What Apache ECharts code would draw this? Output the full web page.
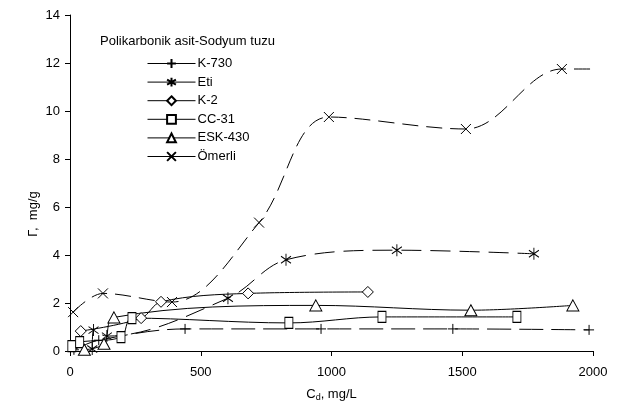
<!DOCTYPE html>
<html>
<head>
<meta charset="utf-8">
<script src="https://cdn.jsdelivr.net/npm/echarts@6/dist/echarts.min.js"></script>
<style>
  html, body { margin: 0; padding: 0; background: #fff; }
  #chart { width: 621px; height: 416px; }
</style>
</head>
<body>
<div id="chart"></div>
<script>
// Adsorption of polycarboxylic acid sodium salt on six materials
const legendTitle = 'Polikarbonik asit-Sodyum tuzu';
const yTitle = 'Γ,  mg/g';
const xTicks = [0, 500, 1000, 1500, 2000];
const yTicks = [0, 2, 4, 6, 8, 10, 12, 14];

// [Cd mg/L, Γ mg/g]
const k730   = [[15, 0.05], [110, 0.45], [440, 0.92], [960, 0.92], [1464, 0.92], [1985, 0.88]];
const eti    = [[85, 0.08], [90, 0.87], [141, 0.62], [604, 2.2], [826, 3.8], [1250, 4.2], [1774, 4.05]];
const k2     = [[41, 0.83], [272, 1.37], [348, 2.05], [681, 2.4], [1139, 2.46]];
const cc31   = [[7, 0.2], [37, 0.37], [195, 0.58], [237, 1.37], [837, 1.17], [1193, 1.42], [1709, 1.42]];
const esk430 = [[55, 0.05], [130, 0.3], [168, 1.4], [940, 1.9], [1533, 1.7], [1923, 1.9]];
const omerli = [[12, 1.62], [126, 2.4], [390, 2.04], [723, 5.35], [990, 9.75], [1514, 9.25], [1881, 11.75], [2020, 11.75]];
// the last Ömerli value only carries the curve on, it has no marker
const omerliUnmarked = [7];

const FONT = 'Liberation Sans, Arial, sans-serif';

const SYM_PLUS = 'path://M5,0V10M0,5H10';
const SYM_STAR = 'path://M5,0V12M1,2.5L9,9.5M9,2.5L1,9.5';
const SYM_X = 'path://M0,0L10,10M10,0L0,10';

function mk(name, data, symbol, size, dash) {
  return {
    name: name,
    type: 'line',
    data: data,
    smooth: 0.35,
    symbol: symbol,
    symbolSize: size,
    clip: false,
    showAllSymbol: true,
    lineStyle: { color: '#000', width: 1, type: dash },
    itemStyle: { color: '#fff', borderColor: '#000', borderWidth: 1 },
    emphasis: { disabled: true },
    animation: false
  };
}

const omerliData = omerli.map((p, i) =>
  omerliUnmarked.includes(i) ? { value: p, symbol: 'none' } : p);

const chart = echarts.init(document.getElementById('chart'), null, { renderer: 'canvas' });
chart.setOption({
  backgroundColor: '#fff',
  animation: false,
  textStyle: { fontFamily: FONT, color: '#000' },
  title: {
    text: legendTitle,
    left: 95, top: 30,
    textStyle: { fontFamily: FONT, fontSize: 13, fontWeight: 'normal', color: '#000' }
  },
  legend: {
    orient: 'vertical',
    left: 142, top: 52,
    itemWidth: 48, itemHeight: 11, itemGap: 5.6,
    lineStyle: { type: 'solid', width: 1, color: '#000' },
    textStyle: { fontFamily: FONT, fontSize: 13, color: '#000', padding: [0, 0, 0, -3] },
    data: ['K-730', 'Eti', 'K-2', 'CC-31', 'ESK-430', 'Ömerli'],
    selectedMode: false
  },
  // vertical axis title, set a little below the axis middle
  graphic: [{
    type: 'text',
    x: 33, y: 214,
    rotation: Math.PI / 2,
    style: {
      text: yTitle,
      fontFamily: FONT, fontSize: 13, fill: '#000',
      align: 'center', verticalAlign: 'middle'
    },
    silent: true
  }],
  grid: { left: 70, top: 15, right: 28, bottom: 65, containLabel: false },
  xAxis: {
    type: 'value', min: xTicks[0], max: xTicks[xTicks.length - 1], interval: 500,
    name: '{a|C}{s|d}{a|, mg/L}',
    nameLocation: 'middle', nameGap: 36,
    nameTextStyle: {
      rich: {
        a: { fontFamily: FONT, fontSize: 13, color: '#000' },
        s: { fontFamily: FONT, fontSize: 9, color: '#000', verticalAlign: 'bottom', padding: [6, 0, 0, 0] }
      }
    },
    axisLine: { lineStyle: { color: '#000', width: 1 } },
    axisTick: { show: true, inside: false, length: 5, lineStyle: { color: '#000' } },
    axisLabel: { fontFamily: FONT, fontSize: 13, color: '#000', margin: 15, formatter: v => String(v) },
    splitLine: { show: false }
  },
  yAxis: {
    type: 'value', min: yTicks[0], max: yTicks[yTicks.length - 1], interval: 2,
    axisLine: { show: true, lineStyle: { color: '#000', width: 1 } },
    axisTick: { show: true, inside: false, length: 5, lineStyle: { color: '#000' } },
    axisLabel: { fontFamily: FONT, fontSize: 13, color: '#000', margin: 10, formatter: v => String(v) },
    splitLine: { show: false }
  },
  series: [
    mk('K-730', k730, SYM_PLUS, [10, 10], [24, 8]),
    mk('Eti', eti, SYM_STAR, [10, 12], [20, 9]),
    mk('K-2', k2, 'diamond', [11, 11], 'solid'),
    mk('CC-31', cc31, 'rect', [8, 11], 'solid'),
    mk('ESK-430', esk430, 'triangle', [12, 11], 'solid'),
    mk('Ömerli', omerliData, SYM_X, [10, 10], [16, 8])
  ]
});
</script>
</body>
</html>
